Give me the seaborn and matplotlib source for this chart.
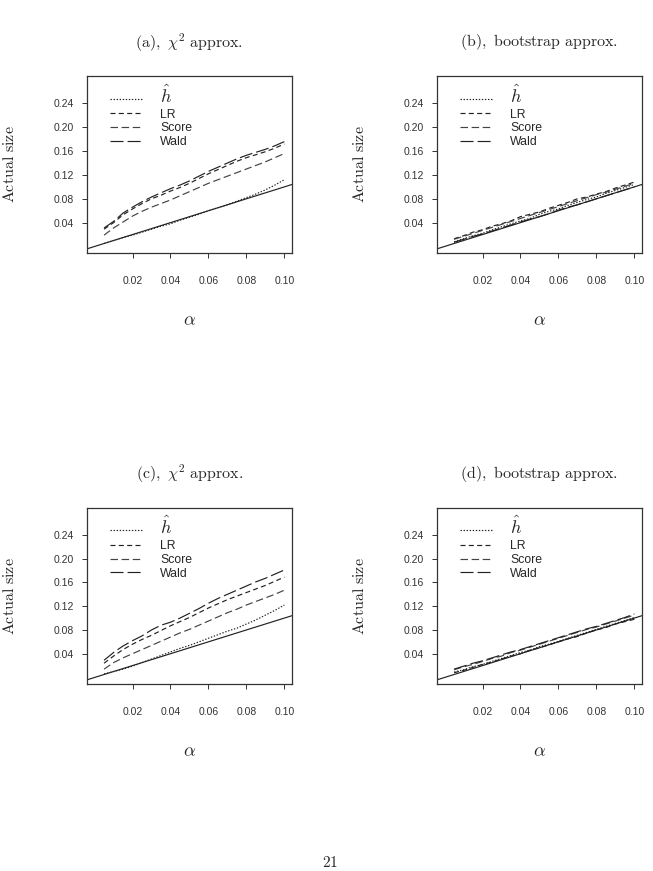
import numpy as np
import pandas as pd
import matplotlib
matplotlib.use("Agg")
import matplotlib.pyplot as plt
import seaborn as sns

# nominal levels (x axis)
alpha_levels = [0.005, 0.010, 0.015, 0.020, 0.025, 0.030, 0.035, 0.040, 0.045, 0.050,
                0.055, 0.060, 0.065, 0.070, 0.075, 0.080, 0.085, 0.090, 0.095, 0.100]

# (a) chi^2 approx.
a_hhat = [0.005, 0.010, 0.015, 0.019, 0.024, 0.029, 0.034, 0.038, 0.044, 0.049,
          0.054, 0.060, 0.065, 0.070, 0.076, 0.082, 0.088, 0.095, 0.103, 0.112]
a_lr = [0.029, 0.040, 0.053, 0.063, 0.072, 0.080, 0.086, 0.093, 0.099, 0.106,
        0.114, 0.122, 0.129, 0.136, 0.143, 0.149, 0.154, 0.159, 0.165, 0.172]
a_score = [0.019, 0.031, 0.041, 0.051, 0.059, 0.066, 0.072, 0.078, 0.085, 0.092,
           0.099, 0.106, 0.112, 0.118, 0.124, 0.130, 0.136, 0.142, 0.149, 0.156]
a_wald = [0.031, 0.042, 0.056, 0.066, 0.075, 0.083, 0.090, 0.097, 0.103, 0.110,
          0.118, 0.126, 0.133, 0.140, 0.147, 0.153, 0.158, 0.163, 0.169, 0.176]

# (b) bootstrap approx.
b_hhat = [0.008, 0.013, 0.018, 0.022, 0.028, 0.033, 0.038, 0.043, 0.047, 0.054,
          0.059, 0.063, 0.069, 0.074, 0.079, 0.083, 0.089, 0.094, 0.099, 0.104]
b_lr = [0.013, 0.018, 0.024, 0.028, 0.034, 0.038, 0.043, 0.050, 0.054, 0.058,
        0.064, 0.069, 0.074, 0.080, 0.083, 0.088, 0.092, 0.098, 0.103, 0.108]
b_score = [0.012, 0.017, 0.022, 0.027, 0.032, 0.037, 0.042, 0.047, 0.052, 0.057,
           0.062, 0.067, 0.072, 0.077, 0.082, 0.087, 0.091, 0.096, 0.101, 0.106]
b_wald = [0.007, 0.012, 0.017, 0.021, 0.026, 0.031, 0.036, 0.041, 0.046, 0.050,
          0.055, 0.061, 0.066, 0.070, 0.075, 0.080, 0.085, 0.090, 0.095, 0.100]

# (c) chi^2 approx.
c_hhat = [0.006, 0.010, 0.014, 0.019, 0.025, 0.031, 0.037, 0.043, 0.049, 0.054,
          0.060, 0.066, 0.072, 0.078, 0.083, 0.090, 0.097, 0.105, 0.113, 0.122]
c_lr = [0.024, 0.036, 0.047, 0.056, 0.064, 0.071, 0.079, 0.087, 0.094, 0.101,
        0.109, 0.117, 0.124, 0.131, 0.137, 0.143, 0.149, 0.155, 0.162, 0.169]
c_score = [0.014, 0.025, 0.033, 0.040, 0.047, 0.054, 0.061, 0.068, 0.075, 0.081,
           0.088, 0.095, 0.102, 0.109, 0.115, 0.122, 0.128, 0.134, 0.140, 0.147]
c_wald = [0.029, 0.042, 0.053, 0.062, 0.070, 0.080, 0.088, 0.093, 0.100, 0.108,
          0.116, 0.125, 0.133, 0.140, 0.147, 0.154, 0.161, 0.167, 0.174, 0.181]

# (d) bootstrap approx.
d_hhat = [0.009, 0.013, 0.018, 0.022, 0.027, 0.032, 0.037, 0.042, 0.046, 0.052,
          0.056, 0.061, 0.066, 0.071, 0.076, 0.081, 0.086, 0.091, 0.096, 0.101]
d_lr = [0.008, 0.012, 0.017, 0.022, 0.026, 0.031, 0.036, 0.040, 0.046, 0.050,
        0.055, 0.060, 0.065, 0.069, 0.075, 0.080, 0.084, 0.090, 0.094, 0.098]
d_score = [0.013, 0.018, 0.022, 0.027, 0.032, 0.036, 0.042, 0.046, 0.051, 0.056,
           0.061, 0.066, 0.071, 0.076, 0.081, 0.085, 0.090, 0.095, 0.100, 0.105]
d_wald = [0.014, 0.019, 0.024, 0.028, 0.033, 0.038, 0.043, 0.047, 0.052, 0.057,
          0.062, 0.067, 0.072, 0.077, 0.082, 0.086, 0.091, 0.096, 0.101, 0.107]

panel_titles = [r"$\mathrm{(a),\ }\chi^2\mathrm{\ approx.}$",
                r"$\mathrm{(b),\ bootstrap\ approx.}$",
                r"$\mathrm{(c),\ }\chi^2\mathrm{\ approx.}$",
                r"$\mathrm{(d),\ bootstrap\ approx.}$"]
panel_data = [(a_hhat, a_lr, a_score, a_wald),
              (b_hhat, b_lr, b_score, b_wald),
              (c_hhat, c_lr, c_score, c_wald),
              (d_hhat, d_lr, d_score, d_wald)]
method_labels = [r"$\hat{h}$", "LR", "Score", "Wald"]
x_ticks = [0.02, 0.04, 0.06, 0.08, 0.10]
y_ticks = [0.04, 0.08, 0.12, 0.16, 0.20, 0.24]

sns.set_style("ticks")
plt.rcParams["font.family"] = ["Liberation Sans", "DejaVu Sans"]
plt.rcParams["mathtext.fontset"] = "cm"
plt.rcParams["lines.scale_dashes"] = False

# line styles per method (dotted, short, medium, long dash)
styles = [dict(color="#222222", linestyle=(0, (1.0, 1.2))),
          dict(color="#222222", linestyle=(0, (3.6, 2.4))),
          dict(color="#444444", linestyle=(0, (5.4, 2.6))),
          dict(color="#222222", linestyle=(0, (9.4, 2.9)))]

fig = plt.figure(figsize=(6.53, 8.71), dpi=100)
positions = [[0.1332, 0.7095, 0.3139, 0.2032],
             [0.6692, 0.7095, 0.3139, 0.2032],
             [0.1332, 0.2147, 0.3139, 0.2025],
             [0.6692, 0.2147, 0.3139, 0.2025]]

for pos, title, series in zip(positions, panel_titles, panel_data):
    ax = fig.add_axes(pos)
    for lab, vals, st in zip(method_labels, series, styles):
        sns.lineplot(x=np.array(alpha_levels), y=np.array(vals), ax=ax,
                     lw=0.85, label=lab, **st)
    # reference line: actual size = nominal level
    ax.axline((0, 0), slope=1, color="#222222", lw=0.85)
    ax.set_xlim(-0.004, 0.104)
    ax.set_ylim(-0.011, 0.286)
    ax.set_xticks(x_ticks)
    ax.set_xticklabels(["%.2f" % t for t in x_ticks])
    ax.set_yticks(y_ticks)
    ax.set_yticklabels(["%.2f" % t for t in y_ticks])
    ax.tick_params(axis="both", direction="out", length=3.6, width=0.7,
                   labelsize=7.5, labelcolor="#333333", color="#333333")
    ax.tick_params(axis="x", pad=13)
    ax.tick_params(axis="y", pad=6)
    for sp in ax.spines.values():
        sp.set_visible(True)
        sp.set_color("#333333")
        sp.set_linewidth(0.9)
    ax.set_xlabel("")
    ax.set_ylabel(r"$\mathrm{Actual\ size}$", fontsize=11.5)
    ax.yaxis.set_label_coords(-0.34, 0.5)
    ax.text(0.5, -0.385, r"$\alpha$", transform=ax.transAxes, ha="center",
            va="center", fontsize=13)
    ax.text(0.5, 1.19, title, transform=ax.transAxes, ha="center",
            va="center", fontsize=11.5)
    h, l = ax.get_legend_handles_labels()
    leg = ax.legend(h[:4], l[:4], loc="upper left", bbox_to_anchor=(0.112, 0.95),
                    frameon=False, borderpad=0, borderaxespad=0, handlelength=2.7,
                    handletextpad=1.4, labelspacing=0.14, fontsize=8.8)
    leg.get_texts()[0].set_fontsize(13)

fig.text(0.505, 1 - 862 / 871, r"$\mathrm{21}$", ha="center", va="center", fontsize=11)

fig.savefig("out.png", dpi=100)
